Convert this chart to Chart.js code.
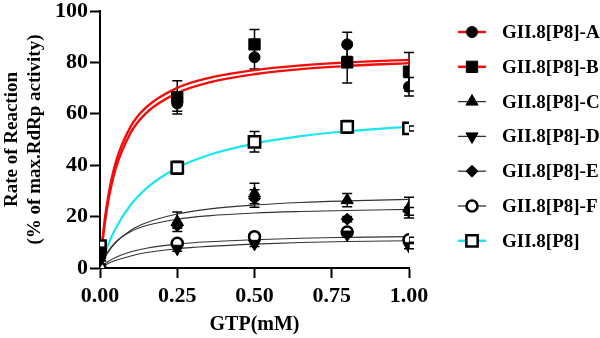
<!DOCTYPE html>
<html>
<head>
<meta charset="utf-8">
<script src="https://cdn.jsdelivr.net/npm/chart.js@4.4.1/dist/chart.umd.min.js"></script>
<style>
  html, body { margin: 0; padding: 0; background: #fff; }
  #wrap { width: 600px; height: 338px; }
</style>
</head>
<body>
<div id="wrap"><canvas id="kinetics" width="600" height="338"></canvas></div>
<script>
// GTP concentrations (mM) that were measured
const doseX = [0, 0.25, 0.5, 0.8, 1.0];

// measured rate (% of max RdRp activity) and SD per construct
const seriesA = [5.5, 64, 82, 87, 70.5];
const errA    = [0, 3, 4.6, 4.7, 3.6];
const seriesB = [6, 66.4, 87, 80, 76.4];
const errB    = [0, 6.5, 5.8, 8, 7.5];
const seriesC = [4, 18, 29, 26.4, 23.5];
const errC    = [0, 3.8, 4, 2.6, 4];
const seriesD = [3, 7.5, 9.4, 13, 8.5];
const errD    = [0, 1, 1, 1, 1];
const seriesE = [5, 16.5, 27, 19, 22];
const errE    = [0, 1, 3.4, 1, 1.5];
const seriesF = [0, 9.6, 12.2, 14, 11];
const errF    = [0, 1, 1, 1, 1];
const seriesWT = [8.5, 39, 49.1, 54.9, 54.3];
const errWT    = [0, 2.5, 4, 2.5, 1];

// Michaelis-Menten fit curves, read at these GTP values
const fitX  = [0, 0.01, 0.025, 0.05, 0.1, 0.15, 0.25, 0.35, 0.5, 0.65, 0.8, 1.0];
const fitA  = [0, 13.2, 26.7, 40.7, 55.2, 62.6, 70.1, 73.9, 77.0, 78.8, 80.0, 81.0];
const fitB  = [0, 12.1, 24.9, 38.4, 52.8, 60.4, 68.1, 72.1, 75.4, 77.4, 78.6, 79.7];
const fitC  = [0, 2.7, 5.9, 9.8, 14.7, 17.6, 21.0, 22.9, 24.5, 25.5, 26.1, 26.7];
const fitD  = [0, 0.7, 1.7, 2.9, 4.7, 6.0, 7.5, 8.4, 9.3, 9.9, 10.3, 10.6];
const fitE  = [0, 3.0, 6.3, 10.1, 14.2, 16.5, 19.0, 20.3, 21.4, 22.0, 22.4, 22.8];
const fitF  = [0, 1.1, 2.4, 4.1, 6.3, 7.7, 9.3, 10.2, 11.0, 11.6, 11.9, 12.2];
const fitWT = [0, 3.8, 8.7, 15.3, 24.7, 31.0, 39.0, 43.9, 48.4, 51.3, 53.2, 55.0];

const labels = ['GII.8[P8]-A', 'GII.8[P8]-B', 'GII.8[P8]-C', 'GII.8[P8]-D', 'GII.8[P8]-E', 'GII.8[P8]-F', 'GII.8[P8]'];
const yTicks = [0, 20, 40, 60, 80, 100];
const xTicks = [0, 0.25, 0.5, 0.75, 1.0];

const RED = '#f20d0d';
const CYAN = '#19e6f0';
const DARK = '#333';
const SERIF = '"Liberation Serif", "Times New Roman", serif';

const toPts = (xs, ys) => xs.map((x, i) => ({ x: x, y: ys[i] }));

function markers(label, ys, errs, style, r, fill, bw, rot, lineColor, lineWidth) {
    return {
        label: label, data: toPts(doseX, ys), errors: errs,
        showLine: false, order: 0,
        pointStyle: style, pointRadius: r, pointHoverRadius: r, pointRotation: rot || 0,
        pointBackgroundColor: fill, pointBorderColor: '#000', pointBorderWidth: bw,
        fitColor: lineColor, fitWidth: lineWidth
    };
}

function fitLine(ys, color, w) {
    return {
        label: '', data: toPts(fitX, ys), showLine: true, order: 1,
        borderColor: color, borderWidth: w, pointRadius: 0, pointHoverRadius: 0,
        cubicInterpolationMode: 'monotone', fill: false
    };
}

// error bars under the markers
const errorBars = {
    id: 'errorBars',
    beforeDatasetsDraw(chart) {
        const { ctx, scales: { x, y } } = chart;
        ctx.save();
        ctx.strokeStyle = '#000';
        ctx.lineWidth = 1.5;
        chart.data.datasets.forEach(ds => {
            if (!ds.errors) return;
            ds.data.forEach((pt, j) => {
                const e = ds.errors[j];
                if (!e) return;
                const px = x.getPixelForValue(pt.x);
                const top = y.getPixelForValue(pt.y + e);
                const bot = y.getPixelForValue(pt.y - e);
                ctx.beginPath();
                ctx.moveTo(px, top); ctx.lineTo(px, bot);
                ctx.moveTo(px - 5, top); ctx.lineTo(px + 5, top);
                ctx.moveTo(px - 5, bot); ctx.lineTo(px + 5, bot);
                ctx.stroke();
            });
        });
        ctx.restore();
    }
};

// legend on the right: line sample + marker + name
const sideLegend = {
    id: 'sideLegend',
    afterDraw(chart) {
        const ctx = chart.ctx;
        const list = chart.data.datasets.filter(d => d.fitColor);
        ctx.save();
        list.forEach((ds, i) => {
            const cy = 32 + i * 34.8;
            ctx.strokeStyle = ds.fitColor;
            ctx.lineWidth = ds.fitWidth;
            ctx.beginPath(); ctx.moveTo(458, cy); ctx.lineTo(486, cy); ctx.stroke();
            ctx.fillStyle = ds.pointBackgroundColor;
            ctx.strokeStyle = '#000';
            ctx.lineWidth = ds.pointBorderWidth;
            Chart.helpers.drawPoint(ctx, {
                pointStyle: ds.pointStyle, radius: ds.pointRadius,
                rotation: ds.pointRotation, borderWidth: ds.pointBorderWidth
            }, 472, cy);
            ctx.fillStyle = '#000';
            ctx.font = 'bold 19px ' + SERIF;
            ctx.textBaseline = 'middle';
            ctx.textAlign = 'left';
            ctx.fillText(ds.label, 502, cy + 1);
        });
        ctx.restore();
    }
};

const ctx = document.getElementById('kinetics').getContext('2d');
new Chart(ctx, {
    type: 'scatter',
    data: {
        datasets: [
            markers(labels[0], seriesA, errA, 'circle', 5.5, '#000', 1, 0, RED, 2.5),
            markers(labels[1], seriesB, errB, 'rect', 8, '#000', 1, 0, RED, 2.5),
            markers(labels[2], seriesC, errC, 'triangle', 7, '#000', 1, 0, DARK, 1.3),
            markers(labels[3], seriesD, errD, 'triangle', 7, '#000', 1, 180, DARK, 1.3),
            markers(labels[4], seriesE, errE, 'rectRot', 6, '#000', 1, 0, DARK, 1.3),
            markers(labels[5], seriesF, errF, 'circle', 5.5, '#fff', 2.5, 0, DARK, 1.3),
            markers(labels[6], seriesWT, errWT, 'rect', 8, '#fff', 2.5, 0, CYAN, 2.5),
            fitLine(fitA, RED, 2.4),
            fitLine(fitB, RED, 2.4),
            fitLine(fitC, DARK, 1.1),
            fitLine(fitD, DARK, 1.1),
            fitLine(fitE, DARK, 1.1),
            fitLine(fitF, DARK, 1.1),
            fitLine(fitWT, CYAN, 2.2)
        ]
    },
    options: {
        responsive: false,
        animation: false,
        devicePixelRatio: 1,
        layout: { padding: { top: 11, right: 191, left: 0, bottom: 0 } },
        plugins: { legend: { display: false }, tooltip: { enabled: false } },
        scales: {
            x: {
                type: 'linear', min: 0, max: 1,
                afterFit: s => { s.height = 70; s.paddingLeft = 0; s.paddingRight = 0; },
                afterBuildTicks: s => { s.ticks = xTicks.map(v => ({ value: v })); },
                border: { color: '#000', width: 2 },
                grid: { drawOnChartArea: false, drawTicks: true, tickLength: 10, tickWidth: 2, tickColor: '#000' },
                ticks: {
                    color: '#000', padding: 5, maxRotation: 0,
                    font: { family: SERIF, size: 22, weight: 'bold' },
                    callback: v => v.toFixed(2)
                },
                title: {
                    display: true, text: 'GTP(mM)', color: '#000',
                    font: { family: SERIF, size: 20, weight: 'bold' },
                    padding: { top: 0, bottom: 1 }
                }
            },
            y: {
                type: 'linear', min: 0, max: 100,
                afterFit: s => { s.width = 100; s.paddingTop = 0; s.paddingBottom = 0; },
                afterBuildTicks: s => { s.ticks = yTicks.map(v => ({ value: v })); },
                border: { color: '#000', width: 2 },
                grid: { drawOnChartArea: false, drawTicks: true, tickLength: 10, tickWidth: 2, tickColor: '#000' },
                ticks: {
                    color: '#000', padding: 2,
                    font: { family: SERIF, size: 22, weight: 'bold' }
                },
                title: {
                    display: true, text: ['Rate of Reaction', '(% of max.RdRp activity)'], color: '#000',
                    font: { family: SERIF, size: 19, weight: 'bold' },
                    padding: { top: 1, bottom: 0 }
                }
            }
        }
    },
    plugins: [errorBars, sideLegend]
});
</script>
</body>
</html>
